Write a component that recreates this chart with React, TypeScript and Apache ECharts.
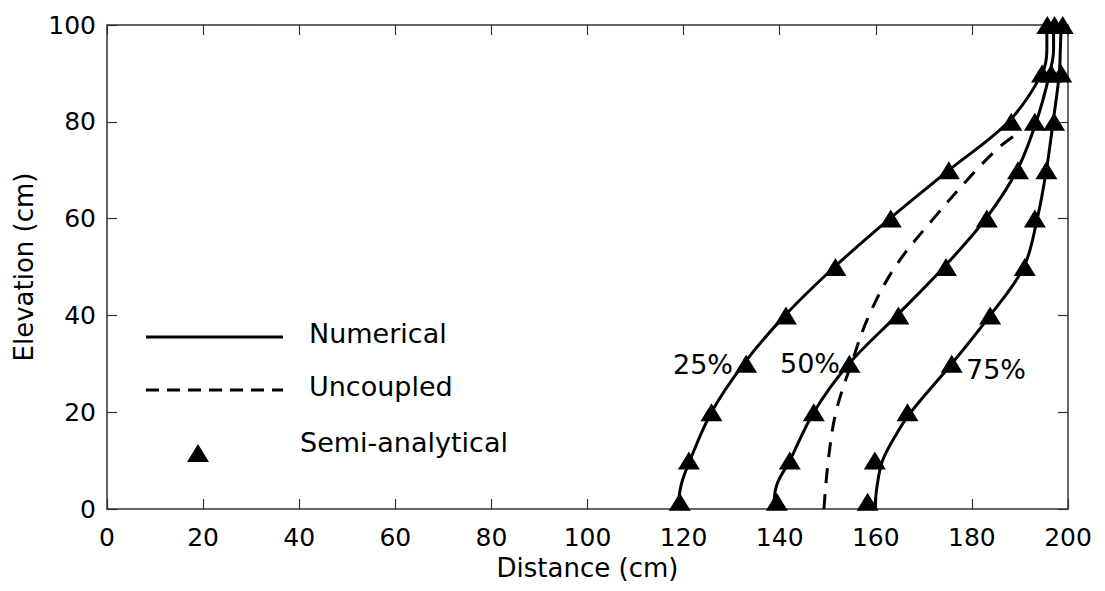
import React, { useEffect, useRef } from "react";
import * as echarts from "echarts";

// ---- data ----
const numElev = [0, 5, 10, 20, 30, 40, 50, 60, 70, 80, 90, 95, 100];
const numerical25 = [118.8, 119.5, 121.3, 125.8, 132.5, 141.1, 151.4, 162.9, 175.2, 187.6, 194.6, 195.6, 195.6];
const numerical50 = [138.7, 139.4, 142.1, 147.1, 154.4, 164.4, 174.2, 182.9, 189.4, 193.4, 196.2, 197.0, 197.0];
const numerical75Elev = [0, 5, 10, 15, 20, 30, 40, 50, 60, 70, 80, 90, 95, 100];
const numerical75 = [159.8, 160.3, 161.4, 164.0, 167.3, 175.8, 183.8, 190.8, 193.6, 195.5, 196.9, 198.2, 198.4, 198.6];

const uncElev = [0, 10, 20, 30, 40, 50, 60, 70, 75, 77.6];
const uncoupled = [149.2, 150.1, 151.7, 154.9, 158.6, 164.0, 172.0, 180.9, 186.0, 189.6];

const semiElev = [1.5, 10, 20, 30, 40, 50, 60, 70, 80, 90, 100];
const semi25 = [119.2, 121.1, 125.8, 133.0, 141.3, 151.6, 163.1, 175.2, 188.2, 194.6, 195.7];
const semi50 = [139.4, 142.1, 147.1, 154.5, 164.7, 174.6, 183.1, 189.6, 193.1, 196.5, 197.2];
const semi75 = [158.3, 159.8, 166.6, 175.8, 183.8, 191.0, 193.1, 195.5, 197.1, 198.6, 198.9];

const xMin = 0, xMax = 200, xStep = 20;
const yMin = 0, yMax = 100, yStep = 20;
const curveLabels = ["25%", "50%", "75%"];
const legendNames = ["Numerical", "Uncoupled", "Semi-analytical"];

const FONT = "DejaVu Sans";

function pairs(xs: number[], ys: number[]) {
  return xs.map((x, i) => [x, ys[i]]);
}

export default function App() {
  const ref = useRef<HTMLDivElement>(null);
  useEffect(() => {
    if (!ref.current) return;
    const chart = echarts.init(ref.current, undefined, { renderer: "svg" });
    const axisLine = { show: true, onZero: false, lineStyle: { color: "#333", width: 1.5 } };
    const tick = { show: true, inside: true, length: 10, lineStyle: { color: "#333", width: 1.2 } };
    const lineSeries = (name: string, xs: number[], ys: number[], dashed = false) => ({
      name,
      type: "line",
      data: pairs(xs, ys),
      smooth: 0.35,
      symbol: "none",
      clip: false,
      lineStyle: { color: "#000", width: 3, type: dashed ? [15, 11] : "solid" },
      z: 2,
    });
    const semiSeries = (xs: number[]) => ({
      name: legendNames[2],
      type: "scatter",
      data: pairs(xs, semiElev),
      symbol: "triangle",
      symbolSize: [22, 18],
      itemStyle: { color: "#000", opacity: 1 },
      clip: false,
      z: 3,
    });
    chart.setOption({
      animation: false,
      backgroundColor: "#fff",
      grid: { left: 107, right: 37, top: 25, bottom: 82 },
      xAxis: [
        {
          type: "value",
          min: xMin,
          max: xMax,
          interval: xStep,
          position: "bottom",
          name: "Distance (cm)",
          nameLocation: "middle",
          nameGap: 45,
          nameTextStyle: { fontFamily: FONT, fontSize: 26, color: "#000" },
          axisLine,
          axisTick: tick,
          splitLine: { show: false },
          axisLabel: { fontFamily: FONT, fontSize: 25, color: "#000", margin: 16 },
        },
        {
          type: "value",
          min: xMin,
          max: xMax,
          interval: xStep,
          position: "top",
          axisLine,
          axisTick: tick,
          splitLine: { show: false },
          axisLabel: { show: false },
        },
      ],
      yAxis: [
        {
          type: "value",
          min: yMin,
          max: yMax,
          interval: yStep,
          position: "left",
          name: "Elevation (cm)",
          nameLocation: "middle",
          nameGap: 66,
          nameRotate: 90,
          nameTextStyle: { fontFamily: FONT, fontSize: 26, color: "#000" },
          axisLine,
          axisTick: tick,
          splitLine: { show: false },
          axisLabel: { fontFamily: FONT, fontSize: 25, color: "#000", margin: 11 },
        },
        {
          type: "value",
          min: yMin,
          max: yMax,
          interval: yStep,
          position: "right",
          axisLine,
          axisTick: tick,
          splitLine: { show: false },
          axisLabel: { show: false },
        },
      ],
      series: [
        lineSeries(legendNames[0], numerical25, numElev),
        lineSeries(legendNames[0], numerical50, numElev),
        lineSeries(legendNames[0], numerical75, numerical75Elev),
        lineSeries(legendNames[1], uncoupled, uncElev, true),
        semiSeries(semi25),
        semiSeries(semi50),
        semiSeries(semi75),
      ],
      graphic: [
        // legend
        { type: "line", shape: { x1: 146, y1: 337, x2: 283, y2: 337 }, style: { stroke: "#000", lineWidth: 3 } },
        { type: "text", x: 309, y: 333, style: { text: legendNames[0], font: `27px "${FONT}"`, fill: "#000", textVerticalAlign: "middle" } },
        { type: "line", shape: { x1: 146, y1: 390, x2: 283, y2: 390 }, style: { stroke: "#000", lineWidth: 3, lineDash: [13, 8] } },
        { type: "text", x: 309, y: 386, style: { text: legendNames[1], font: `27px "${FONT}"`, fill: "#000", textVerticalAlign: "middle" } },
        { type: "polygon", shape: { points: [[187, 462], [209, 462], [198, 444]] }, style: { fill: "#000" } },
        { type: "text", x: 300, y: 442, style: { text: legendNames[2], font: `27px "${FONT}"`, fill: "#000", textVerticalAlign: "middle" } },
        // curve labels
        { type: "text", x: 673, y: 364, style: { text: curveLabels[0], font: `27px "${FONT}"`, fill: "#000", textVerticalAlign: "middle" } },
        { type: "text", x: 780, y: 363, style: { text: curveLabels[1], font: `27px "${FONT}"`, fill: "#000", textVerticalAlign: "middle" } },
        { type: "text", x: 966, y: 369, style: { text: curveLabels[2], font: `27px "${FONT}"`, fill: "#000", textVerticalAlign: "middle" } },
      ],
    });
    return () => chart.dispose();
  }, []);
  return (
    <div
      ref={ref}
      style={{ position: "fixed", left: 0, top: 0, width: 1105, height: 591, background: "#fff" }}
    />
  );
}
